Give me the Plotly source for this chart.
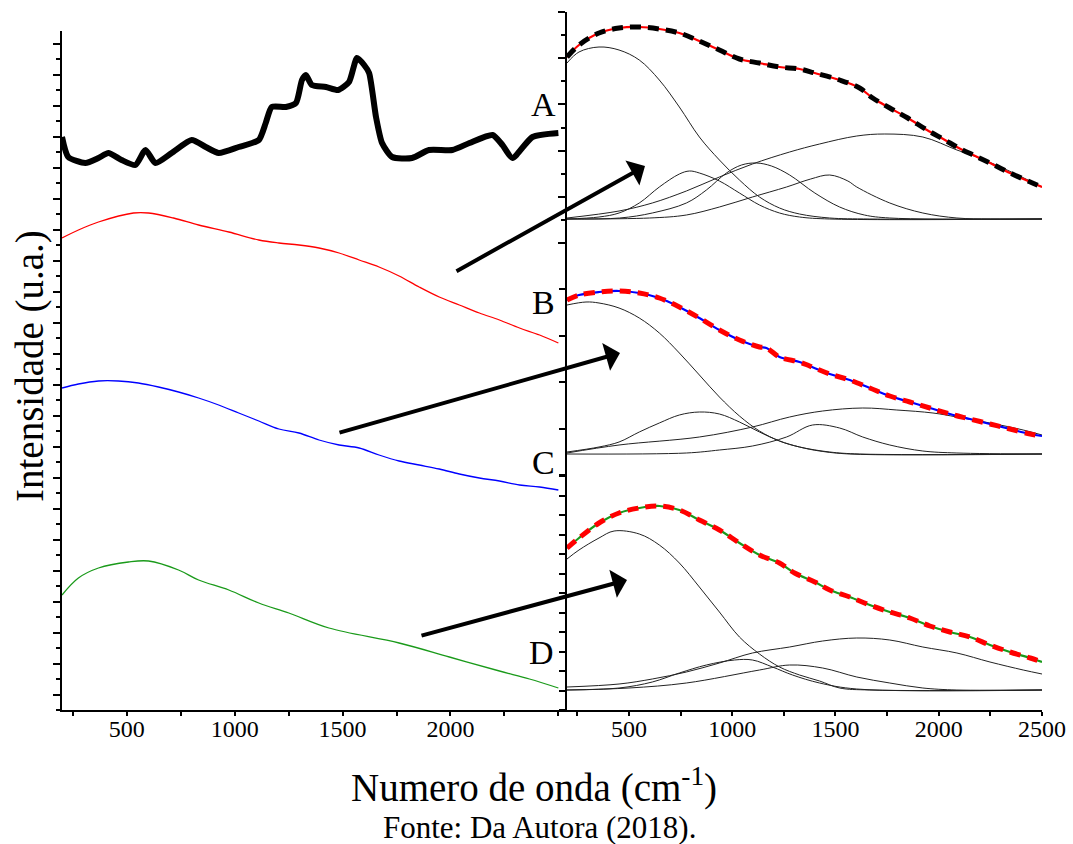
import plotly.graph_objects as go

# ---------------- Left panel: stacked Raman spectra (u.a., offset) ----------------
wn_A = [200, 229, 308, 369, 415, 476, 540, 587, 633, 708, 801, 866, 926, 1019, 1112, 1144, 1172,
        1237, 1284, 1312, 1330, 1358, 1423, 1480, 1530, 1567, 1600, 1623, 1655, 1683, 1730, 1822,
        1901, 2009, 2088, 2195, 2241, 2287, 2380, 2500]
int_A = [573, 553, 547, 552, 557, 550, 545, 560, 547, 557, 570, 563, 557, 563, 570, 587, 603,
         603, 607, 630, 635, 625, 623, 620, 628, 652, 645, 637, 593, 567, 553, 552,
         560, 560, 567, 575, 565, 552, 573, 577]

wn_B = [200, 276, 369, 531, 601, 717, 833, 973, 1112, 1205, 1298, 1391, 1484, 1577, 1669, 1762,
        1855, 1948, 2041, 2134, 2227, 2320, 2413, 2500]
int_B = [472, 480, 488, 497, 497, 492, 485, 478, 470, 467, 465, 462, 457, 450, 443, 434,
         423, 413, 405, 397, 390, 382, 375, 367]

wn_C = [200, 276, 369, 461, 554, 647, 740, 833, 926, 1019, 1112, 1205, 1298, 1391, 1484, 1577,
        1669, 1762, 1855, 1948, 2041, 2134, 2227, 2320, 2413, 2500]
int_C = [322, 326, 329, 329, 327, 323, 318, 312, 305, 297, 289, 281, 277, 270, 265, 262,
         255, 249, 245, 241, 236, 232, 229, 225, 223, 220]

wn_D = [200, 276, 369, 508, 601, 740, 833, 973, 1112, 1251, 1437, 1762, 1995, 2227, 2366, 2500]
int_D = [115, 132, 142, 148, 149, 140, 130, 120, 107, 97, 82, 67, 53, 39, 31, 22]

# ---------------- Right panel, top: sample B fit ----------------
wn_fitB = [200, 258, 355, 452, 550, 647, 744, 841, 938, 1035, 1132, 1229, 1326, 1399, 1520, 1617,
           1680, 1763, 1850, 1943, 2030, 2088, 2166, 2258, 2345, 2443, 2500]
int_fitB = [186, 198, 210, 215, 216, 214, 210, 202, 193, 184, 180, 176, 174, 170, 163, 155,
            145, 135, 125, 113, 103, 96, 88, 79, 70, 61, 56]
compB_x = [
    [200, 258, 355, 452, 550, 647, 744, 841, 938, 1035, 1132, 1229, 1326, 1472, 1666, 2500],
    [200, 355, 452, 550, 647, 744, 793, 841, 938, 1035, 1132, 1229, 1326, 1472, 2500],
    [200, 455, 613, 778, 875, 972, 1045, 1117, 1190, 1278, 1400, 1520, 1640, 1763, 2500],
    [200, 600, 778, 938, 1098, 1263, 1380, 1472, 1560, 1603, 1763, 1923, 2088, 2250, 2500],
    [200, 452, 613, 778, 938, 1098, 1278, 1423, 1603, 1739, 1923, 2088, 2185, 2331, 2500],
]
compB_y = [
    [180, 191, 196, 193, 183, 163, 136, 106, 83, 63, 46, 35, 29, 25, 24, 24],
    [24, 26, 30, 40, 56, 69, 72, 70, 62, 50, 38, 30, 26, 24, 24],
    [24, 25, 30, 40, 53, 70, 78, 80, 77, 68, 50, 36, 28, 25, 24],
    [24, 25, 28, 36, 46, 56, 64, 68, 62, 56, 40, 30, 25, 24, 24],
    [25, 32, 40, 52, 66, 79, 91, 99, 107, 109, 106, 93, 86, 73, 56],
]

# ---------------- Right panel, middle: sample C fit ----------------
wn_fitC = [200, 258, 355, 452, 550, 647, 744, 841, 938, 1035, 1132, 1166, 1229, 1326, 1375, 1472,
           1569, 1666, 1763, 1860, 1957, 2054, 2151, 2248, 2345, 2443, 2500]
int_fitC = [175, 180, 183, 184, 182, 177, 168, 157, 145, 135, 128, 127, 118, 113, 109, 101,
            95, 87, 79, 73, 67, 61, 56, 51, 46, 41, 39]
compC_x = [
    [200, 292, 355, 452, 550, 647, 744, 841, 938, 1035, 1132, 1229, 1326, 1423, 1569, 2500],
    [200, 355, 452, 550, 647, 744, 841, 938, 1035, 1132, 1229, 1326, 1472, 1617, 2500],
    [200, 452, 841, 1098, 1278, 1438, 1632, 1797, 1972, 2088, 2248, 2409, 2500],
    [200, 778, 938, 1098, 1263, 1389, 1520, 1632, 1763, 1923, 2088, 2500],
]
compC_y = [
    [170, 173, 172, 167, 157, 142, 122, 100, 78, 59, 44, 34, 28, 24, 21, 21],
    [23, 28, 33, 43, 52, 60, 63, 61, 53, 43, 34, 28, 23, 21, 21],
    [22, 30, 38, 48, 58, 64, 67, 65, 62, 58, 52, 45, 40],
    [21, 22, 25, 29, 38, 50, 47, 38, 30, 24, 22, 21],
]

# ---------------- Right panel, bottom: sample D fit ----------------
wn_fitD = [200, 258, 355, 452, 550, 647, 744, 841, 938, 1035, 1132, 1229, 1302, 1400, 1472, 1569,
           1666, 1763, 1860, 1957, 2054, 2151, 2248, 2345, 2443, 2500]
int_fitD = [162, 172, 187, 197, 202, 204, 200, 190, 180, 167, 155, 147, 137, 128, 120, 113,
            105, 98, 92, 84, 78, 73, 65, 58, 52, 48]
compD_x = [
    [200, 258, 355, 428, 550, 647, 744, 841, 938, 1035, 1132, 1229, 1326, 1423, 1520, 1666, 2500],
    [200, 452, 613, 744, 875, 1011, 1098, 1195, 1292, 1423, 1603, 2500],
    [200, 500, 778, 1132, 1278, 1438, 1603, 1763, 1923, 2088, 2500],
    [200, 452, 613, 778, 938, 1098, 1278, 1438, 1603, 1763, 1923, 2088, 2248, 2409, 2500],
]
compD_y = [
    [151, 160, 172, 179, 176, 165, 147, 123, 98, 73, 56, 43, 35, 29, 22, 20, 20],
    [20, 22, 28, 37, 45, 50, 50, 43, 35, 27, 21, 20],
    [20, 22, 27, 40, 45, 42, 33, 27, 22, 20, 20],
    [23, 26, 31, 38, 47, 57, 63, 69, 72, 70, 63, 57, 48, 40, 36],
]

x_ticks_left = [500, 1000, 1500, 2000]
x_ticks_right = [500, 1000, 1500, 2000, 2500]
panel_labels = ["A", "B", "C", "D"]

# ---------------- layout helpers (pixel -> paper) ----------------
W, H = 1073, 844
def fx(p):
    return p / W
def fy(p):
    return 1 - p / H

SERIF = "'Liberation Serif', Tinos, 'Times New Roman', Times, 'DejaVu Serif', serif"

fig = go.Figure()

# left spectra
fig.add_trace(go.Scatter(x=wn_A, y=int_A, mode="lines", line=dict(color="black", width=6, shape="spline", smoothing=0.6),
                         xaxis="x", yaxis="y", showlegend=False))
fig.add_trace(go.Scatter(x=wn_B, y=int_B, mode="lines", line=dict(color="red", width=1.3, shape="spline"),
                         xaxis="x", yaxis="y", showlegend=False))
fig.add_trace(go.Scatter(x=wn_C, y=int_C, mode="lines", line=dict(color="blue", width=1.3, shape="spline"),
                         xaxis="x", yaxis="y", showlegend=False))
fig.add_trace(go.Scatter(x=wn_D, y=int_D, mode="lines", line=dict(color="#1a9a1a", width=1.3, shape="spline"),
                         xaxis="x", yaxis="y", showlegend=False))

def add_fit(yax, comps_x, comps_y, wn, val, data_color, fit_color):
    for cx, cy in zip(comps_x, comps_y):
        fig.add_trace(go.Scatter(x=cx, y=cy, mode="lines",
                                 line=dict(color="#222222", width=1, shape="spline"),
                                 xaxis="x2", yaxis=yax, showlegend=False))
    fig.add_trace(go.Scatter(x=wn, y=val, mode="lines",
                             line=dict(color=data_color, width=2.2, shape="spline"),
                             xaxis="x2", yaxis=yax, showlegend=False))
    fig.add_trace(go.Scatter(x=wn, y=val, mode="lines",
                             line=dict(color=fit_color, width=5, dash="11px,7px", shape="spline"),
                             xaxis="x2", yaxis=yax, showlegend=False))

add_fit("y2", compB_x, compB_y, wn_fitB, int_fitB, "red", "black")
add_fit("y3", compC_x, compC_y, wn_fitC, int_fitC, "blue", "red")
add_fit("y4", compD_x, compD_y, wn_fitD, int_fitD, "#1a9a1a", "red")

axis_common = dict(showgrid=False, zeroline=False, showline=True, linecolor="black",
                   linewidth=2, ticks="outside", tickcolor="black", tickwidth=2, automargin=False)

fig.update_layout(
    width=W, height=H, autosize=False,
    margin=dict(l=0, r=0, t=0, b=0, pad=0, autoexpand=False),
    showlegend=False,
    paper_bgcolor="white", plot_bgcolor="rgba(0,0,0,0)",
    font=dict(family=SERIF, color="black", size=24),
    xaxis=dict(domain=[fx(62), fx(567)], range=[200, 2540], anchor="y",
               tickvals=x_ticks_left, ticklen=4, ticklabelstandoff=-8,
               minor=dict(ticks="outside", dtick=250, tick0=250, ticklen=4, tickcolor="black", tickwidth=2),
               tickfont=dict(size=24, family=SERIF), **axis_common),
    yaxis=dict(domain=[fy(710), fy(31)], range=[0, 679], anchor="x",
               tick0=15.5, dtick=31, ticklen=7, showticklabels=False,
               minor=dict(ticks="outside", dtick=15.5, tick0=0, ticklen=4, tickcolor="black", tickwidth=2),
               **axis_common),
    xaxis2=dict(domain=[fx(567), fx(1042)], range=[200, 2500], anchor="y4",
                tickvals=x_ticks_right, ticklen=4, ticklabelstandoff=-8,
                minor=dict(ticks="outside", dtick=250, tick0=250, ticklen=4, tickcolor="black", tickwidth=2),
                tickfont=dict(size=24, family=SERIF), **axis_common),
    yaxis2=dict(domain=[fy(243), fy(12)], range=[0, 231], anchor="x2",
                tick0=0, dtick=46.2, ticklen=7, showticklabels=False,
                minor=dict(ticks="outside", dtick=23.1, tick0=0, ticklen=4, tickcolor="black", tickwidth=2),
                **axis_common),
    yaxis3=dict(domain=[fy(475), fy(243)], range=[0, 232], anchor="x2",
                tick0=0, dtick=46.4, ticklen=6, showticklabels=False, **axis_common),
    yaxis4=dict(domain=[fy(710), fy(475)], range=[0, 235], anchor="x2",
                tick0=0, dtick=19.5, ticklen=6, showticklabels=False, **axis_common),
)

annotations = []
# panel letters
for lab, (px, py) in zip(panel_labels, [(543, 105), (543, 302), (543, 462), (541, 652)]):
    annotations.append(dict(text=lab, x=fx(px), y=fy(py), xref="paper", yref="paper",
                            showarrow=False, xanchor="center", yanchor="middle",
                            font=dict(family=SERIF, size=34, color="black")))
# arrows (tail offset in pixels relative to head)
for (tx, ty), (hx, hy) in [((455, 272), (645, 166)), ((338, 433), (620, 353)), ((420, 636), (627, 580))]:
    annotations.append(dict(text="", x=fx(hx), y=fy(hy), ax=tx - hx, ay=ty - hy,
                            xref="paper", yref="paper", axref="pixel", ayref="pixel",
                            showarrow=True, arrowhead=1, arrowsize=1.2, arrowwidth=4,
                            arrowcolor="black"))
# axis titles and source
annotations.append(dict(text="Intensidade (u.a.)", x=fx(30), y=fy(366), xref="paper", yref="paper",
                        showarrow=False, textangle=-90, xanchor="center", yanchor="middle",
                        font=dict(family=SERIF, size=39, color="black")))
annotations.append(dict(text="Numero de onda (cm<sup>-1</sup>)", x=fx(534), y=fy(785), xref="paper",
                        yref="paper", showarrow=False, xanchor="center", yanchor="middle",
                        font=dict(family=SERIF, size=39, color="black")))
annotations.append(dict(text="Fonte: Da Autora (2018).", x=fx(539), y=fy(827), xref="paper", yref="paper",
                        showarrow=False, xanchor="center", yanchor="middle",
                        font=dict(family=SERIF, size=31, color="black")))
fig.update_layout(annotations=annotations)

fig.write_html("out.html", config={"responsive": False})
